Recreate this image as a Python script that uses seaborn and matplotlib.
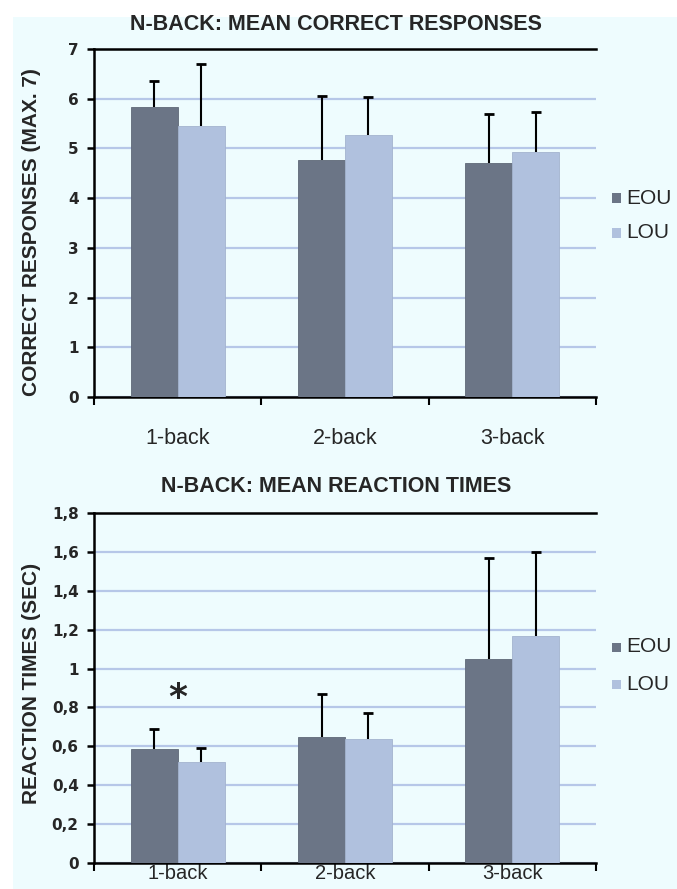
import numpy as np
import pandas as pd
import matplotlib
matplotlib.use("Agg")
import matplotlib.pyplot as plt
import seaborn as sns
from matplotlib.patches import Rectangle
from matplotlib.ticker import FixedLocator

# ---- data ----
categories = ["1-back", "2-back", "3-back"]
groups = ["EOU", "LOU"]

correct_eou = [5.84, 4.77, 4.70]
correct_lou = [5.46, 5.28, 4.93]
correct_err_eou = [0.52, 1.29, 0.99]
correct_err_lou = [1.24, 0.76, 0.80]

rt_eou = [0.586, 0.648, 1.048]
rt_lou = [0.517, 0.637, 1.168]
rt_err_eou = [0.104, 0.221, 0.520]
rt_err_lou = [0.074, 0.134, 0.429]

correct_ticks = [0, 1, 2, 3, 4, 5, 6, 7]
correct_ticklabels = ["0", "1", "2", "3", "4", "5", "6", "7"]
rt_ticks = [0, 0.2, 0.4, 0.6, 0.8, 1.0, 1.2, 1.4, 1.6, 1.8]
rt_ticklabels = ["0", "0,2", "0,4", "0,6", "0,8", "1", "1,2", "1,4", "1,6", "1,8"]

titles = ["N-BACK: MEAN CORRECT RESPONSES", "N-BACK: MEAN REACTION TIMES"]
ylabels = ["CORRECT RESPONSES (MAX. 7)", "REACTION TIMES (SEC)"]

# ---- style ----
sns.set_theme(style="white")
plt.rcParams["font.family"] = ["Liberation Sans", "DejaVu Sans"]

BG = "#EEFCFE"
C_EOU = "#6B7586"
C_LOU = "#B0C1DE"
GRID = "#B6C7E8"
palette = {"EOU": C_EOU, "LOU": C_LOU}

W, H = 677, 889
fig = plt.figure(figsize=(W / 100, H / 100), dpi=100, facecolor="white")
fig.patches.append(Rectangle((13 / W, 0), 1 - 13 / W, 1 - 17 / H,
                             transform=fig.transFigure, facecolor=BG,
                             edgecolor="none", zorder=-10))

left, right = 94 / W, 596 / W
panels = [
    dict(bottom=1 - 397 / H, top=1 - 49 / H, eou=correct_eou, lou=correct_lou,
         eeou=correct_err_eou, elou=correct_err_lou, ylim=(0, 7),
         ticks=correct_ticks, tl=correct_ticklabels, title_y=1 - 25 / H,
         xpad=22, xsize=15.5, ylab_y=232, leg_y=[198, 233]),
    dict(bottom=1 - 863 / H, top=1 - 513 / H, eou=rt_eou, lou=rt_lou,
         eeou=rt_err_eou, elou=rt_err_lou, ylim=(0, 1.8),
         ticks=rt_ticks, tl=rt_ticklabels, title_y=1 - 487 / H,
         xpad=1, xsize=14.5, ylab_y=683, leg_y=[647, 684]),
]

for i, p in enumerate(panels):
    ax = fig.add_axes([left, p["bottom"], right - left, p["top"] - p["bottom"]])
    ax.set_facecolor(BG)
    df = pd.DataFrame({
        "task": categories * 2,
        "group": [groups[0]] * 3 + [groups[1]] * 3,
        "value": p["eou"] + p["lou"],
    })
    sns.barplot(data=df, x="task", y="value", hue="group", order=categories,
                hue_order=groups, palette=palette, width=0.56, errorbar=None,
                saturation=1, ax=ax, edgecolor="#5f6878", linewidth=0.6)
    for cont, g in zip(ax.containers, groups):
        for bar in cont:
            bar.set_zorder(3)
            if g == "LOU":
                bar.set_edgecolor("#a3b3cf")
    errs = [p["eeou"], p["elou"]]
    for cont, err in zip(ax.containers, errs):
        xs = [b.get_x() + b.get_width() / 2 for b in cont]
        ys = [b.get_height() for b in cont]
        eb = ax.errorbar(xs, ys, yerr=[np.zeros(len(err)), err], fmt="none",
                         ecolor="black", elinewidth=1.5, capsize=3.5,
                         capthick=2, zorder=2)
        caps = eb[1]
        if len(caps) == 2:
            caps[0].set_visible(False)

    ax.set_xlim(-0.5, 2.5)
    ax.set_ylim(*p["ylim"])
    ax.set_yticks(p["ticks"])
    ax.set_yticklabels(p["tl"], fontfamily="DejaVu Sans", fontweight="bold",
                       fontsize=11)
    ax.yaxis.grid(True, color=GRID, linewidth=1.6, zorder=0)
    ax.set_axisbelow(True)
    ax.tick_params(axis="y", direction="out", length=5, width=1.8,
                   color="black", pad=6, left=True)
    ax.tick_params(axis="x", which="major", length=0, pad=p["xpad"],
                   labelsize=p["xsize"])
    ax.xaxis.set_minor_locator(FixedLocator([-0.5, 0.5, 1.5, 2.5]))
    ax.tick_params(axis="x", which="minor", direction="out", length=6,
                   width=1.5, color="black", bottom=True)
    for lab in ax.get_xticklabels():
        lab.set_fontfamily("Liberation Sans")
    ax.set_xlabel("")
    ax.set_ylabel("")
    for s in ["left", "bottom", "top"]:
        ax.spines[s].set_visible(True)
        ax.spines[s].set_color("black")
        ax.spines[s].set_linewidth(1.8)
    ax.spines["right"].set_visible(False)

    fig.text(336 / W, p["title_y"], titles[i], ha="center", va="center",
             fontsize=15.5, fontweight="bold", fontfamily="Liberation Sans")
    fig.text(32 / W, 1 - p["ylab_y"] / H, ylabels[i], rotation=90,
             ha="center", va="center", fontsize=15, fontweight="bold",
             fontfamily="Liberation Sans")

    ax.legend_.remove()
    for g, yy in zip(groups, p["leg_y"]):
        fig.patches.append(Rectangle((612 / W, 1 - (yy + 4.5) / H), 9 / W, 9 / H,
                                     transform=fig.transFigure,
                                     facecolor=palette[g], edgecolor="none"))
        fig.text(626 / W, 1 - yy / H, g, ha="left", va="center", fontsize=15,
                 fontfamily="Liberation Sans")

    if i == 1:
        ax.text(0, 0.85, "*", ha="center", va="center", fontsize=26,
                fontweight="bold", fontfamily="DejaVu Sans", zorder=5)

fig.savefig("out.png", dpi=100, facecolor="white")
